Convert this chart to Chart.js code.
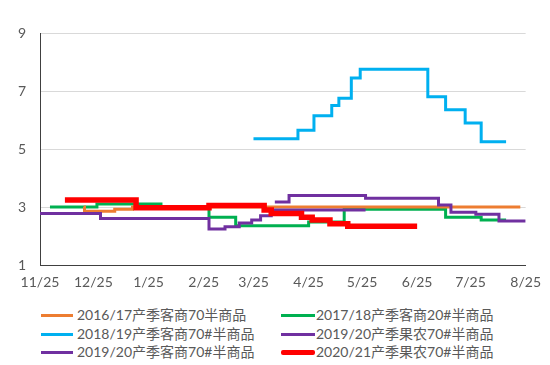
<!DOCTYPE html>
<html>
<head>
<meta charset="utf-8">
<script src="https://cdn.jsdelivr.net/npm/chart.js@4/dist/chart.umd.min.js"></script>
<style>
  body { margin: 0; background: #fff; }
  #wrap { position: relative; width: 550px; height: 365px; }
  #legend { position: absolute; left: 0; top: 0; }
  .item { position: absolute; font: 14px Lato, "Noto Sans CJK SC", sans-serif; color: #595959; white-space: nowrap; line-height: 16px; }
  .item span { position: absolute; top: 7px; height: 3px; }
</style>
</head>
<body>
<div id="wrap">
  <canvas id="myChart" width="550" height="300"></canvas>
  <div id="legend"></div>
</div>
<script>
// x axis = days from 11/25
const tickDays = [0, 30, 61, 92, 120, 151, 181, 212, 242, 273];
const tickLabels = ['11/25', '12/25', '1/25', '2/25', '3/25', '4/25', '5/25', '6/25', '7/25', '8/25'];

const names = [
    '2016/17产季客商70半商品',
    '2017/18产季客商20#半商品',
    '2018/19产季客商70#半商品',
    '2019/20产季果农70#半商品',
    '2019/20产季客商70#半商品',
    '2020/21产季果农70#半商品'
];
const colors = ['#ED7D31', '#00B050', '#00B0F0', '#7030A0', '#7030A0', '#FF0000'];

// each series: day where price changes, price from that day on
const days1617 = [24.5, 25, 42, 52, 270];
const vals1617 = [3.0, 2.85, 2.92, 3.0, 3.0];

const days1718 = [5.6, 32, 68, 95, 110, 151, 171, 228, 248, 262];
const vals1718 = [3.0, 3.1, 2.97, 2.65, 2.35, 2.48, 2.92, 2.65, 2.55, 2.55];

const days1819 = [120, 145, 154, 164, 168, 175, 180, 218, 228, 239, 248, 262];
const vals1819 = [5.35, 5.65, 6.15, 6.5, 6.75, 7.45, 7.75, 6.8, 6.35, 5.9, 5.25, 5.25];

const days1920a = [132, 140, 183, 224, 231, 245, 258, 273];
const vals1920a = [3.17, 3.4, 3.3, 3.07, 2.82, 2.75, 2.52, 2.52];

const days1920b = [0, 34, 95, 104, 112, 119, 124, 130, 183];
const vals1920b = [2.78, 2.6, 2.24, 2.32, 2.45, 2.55, 2.7, 2.9, 2.9];

const days2021 = [14, 54, 95, 126, 130, 147, 153, 163, 173, 212];
const vals2021 = [3.24, 2.97, 3.05, 2.9, 2.78, 2.65, 2.55, 2.42, 2.34, 2.34];

const allDays = [days1617, days1718, days1819, days1920a, days1920b, days2021];
const allVals = [vals1617, vals1718, vals1819, vals1920a, vals1920b, vals2021];
const widths = [3, 3, 3, 3, 3, 5.5];
const drawOrder = [4, 5, 3, 2, 1, 0];

const font = 'Lato, "Noto Sans CJK SC", sans-serif';

const ctx = document.getElementById('myChart');

new Chart(ctx, {
    type: 'line',
    data: {
        datasets: names.map((name, i) => ({
            label: name,
            data: allDays[i].map((d, j) => ({ x: d, y: allVals[i][j] })),
            borderColor: colors[i],
            backgroundColor: colors[i],
            borderWidth: widths[i],
            pointRadius: 0,
            stepped: true,
            order: drawOrder[i]
        }))
    },
    options: {
        responsive: false,
        animation: false,
        devicePixelRatio: 1,
        layout: { padding: { top: 33, right: 23, left: 0, bottom: 0 } },
        plugins: { legend: { display: false }, tooltip: { enabled: false } },
        scales: {
            x: {
                type: 'linear',
                min: 0,
                max: 273,
                afterBuildTicks: axis => { axis.ticks = tickDays.map(v => ({ value: v })); },
                afterFit: axis => { axis.height = 35; },
                grid: { drawOnChartArea: false, drawTicks: false },
                border: { color: '#404040', width: 1 },
                ticks: {
                    autoSkip: false,
                    maxRotation: 0,
                    padding: 9,
                    color: '#595959',
                    font: { family: font, size: 14 },
                    callback: (v, i) => tickLabels[i]
                }
            },
            y: {
                min: 1,
                max: 9,
                afterFit: axis => { axis.width = 40; },
                grid: { color: '#D9D9D9', drawTicks: false },
                border: { color: '#404040', width: 1 },
                ticks: {
                    stepSize: 2,
                    padding: 14,
                    color: '#595959',
                    font: { family: font, size: 14 }
                }
            }
        }
    }
});

// legend in two columns, three rows
const legend = document.getElementById('legend');
const colX = [41, 281];
const rowY = [307, 326, 344];
names.forEach((name, i) => {
    const div = document.createElement('div');
    div.className = 'item';
    div.style.left = colX[i % 2] + 'px';
    div.style.top = rowY[Math.floor(i / 2)] + 'px';
    div.style.paddingLeft = (i % 2 ? 35 : 36) + 'px';
    const line = document.createElement('span');
    line.style.left = '0px';
    line.style.width = (i % 2 ? 34 : 32) + 'px';
    line.style.background = colors[i];
    if (i === 5) { line.style.height = '5px'; line.style.top = '6px'; line.style.borderRadius = '2px'; }
    div.appendChild(line);
    div.appendChild(document.createTextNode(name));
    legend.appendChild(div);
});
</script>
</body>
</html>
